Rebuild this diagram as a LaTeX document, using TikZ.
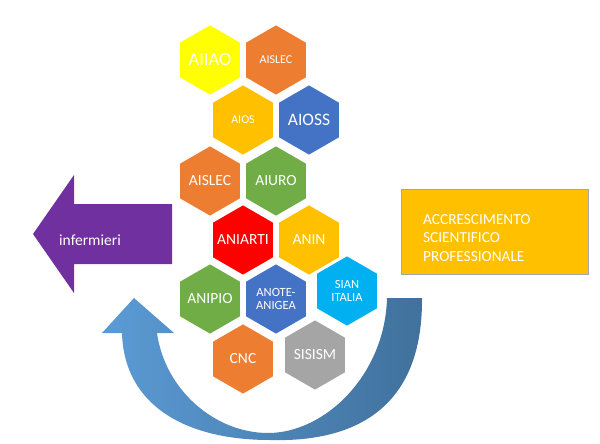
\documentclass[tikz,border=0pt]{standalone}
\usepackage{fontspec}
\setmainfont{Carlito}
\definecolor{cyel}{HTML}{FFFF00}
\definecolor{cora}{HTML}{ED7D31}
\definecolor{cgold}{HTML}{FFC000}
\definecolor{cblue}{HTML}{4472C4}
\definecolor{cgreen}{HTML}{70AD47}
\definecolor{cred}{HTML}{FF0000}
\definecolor{ccyan}{HTML}{00B0F0}
\definecolor{cgray}{HTML}{A5A5A5}
\definecolor{cpurple}{HTML}{7030A0}
\definecolor{arrL}{HTML}{5B9BD5}
\definecolor{arrR}{HTML}{41719C}
\tikzset{
  hextext/.style={text=white, align=center, inner sep=0pt},
  hexfill/.style={fill=#1, draw=none},
}
\newcommand\hexnode[6]{%
  \fill[hexfill=#4] (#2,#3) +(30:34.6) -- +(90:34.6) -- +(150:34.6) -- +(210:34.6) -- +(270:34.6) -- +(330:34.6) -- cycle;
  \node[hextext, font=\fontsize{#5}{#5}\selectfont] (#1) at (#2,#3) {#6};}
\begin{document}
\begin{tikzpicture}[x=1pt,y=-1pt]
\useasboundingbox (0,0) rectangle (600,444);
% curved arrow
\path[left color=arrL, right color=arrR]
  (422,298) .. controls (423,420) and (340,442) .. (270,440)
  .. controls (185,440) and (124,405) .. (122,333)
  -- (102,333) -- (134,298) -- (174,333) -- (157,333)
  .. controls (165,390) and (215,433) .. (268,433)
  .. controls (325,433) and (385,375) .. (387,298) -- cycle;
% purple arrow
\fill[cpurple] (172,204) -- (74,204) -- (74,175) -- (33,234) -- (74,293) -- (74,264) -- (172,264) -- cycle;
\node[text=white, font=\fontsize{15.5}{15.5}\selectfont] (inf) at (90,240) {infermieri};
% hexagons
\hexnode{h1}{210}{60}{cyel}{18.5}{AIIAO}
\hexnode{h2}{276}{60}{cora}{12}{AISLEC}
\hexnode{h3}{243}{120}{cgold}{12}{AIOS}
\hexnode{h4}{309}{120}{cblue}{17.5}{AIOSS}
\hexnode{h5}{210}{181}{cora}{15.5}{AISLEC}
\hexnode{h6}{276}{181}{cgreen}{15.5}{AIURO}
\hexnode{h7}{243}{240}{cred}{15.5}{ANIARTI}
\hexnode{h8}{309}{240}{cgold}{15.5}{ANIN}
\hexnode{h9}{210}{299}{cgreen}{15.5}{ANIPIO}
\hexnode{h10}{276}{299}{cblue}{12.5}{\fontsize{12.5}{14}\selectfont ANOTE-\\ANIGEA}
\hexnode{h11}{347}{291}{ccyan}{12.5}{\fontsize{12.5}{15}\selectfont SIAN\\ITALIA}
\hexnode{h12}{243}{359}{cora}{15.5}{CNC}
\hexnode{h13}{315}{355}{cgray}{15.5}{SISISM}
% box
\node[fill=cgold, draw=black!35, line width=0.6pt, minimum width=187pt, minimum height=85pt, inner sep=0pt] (box) at (494.5,231.5) {};
\node[text=white, anchor=west, align=left, inner sep=0pt, font=\fontsize{15.3}{18.3}\selectfont] (acc) at (423,238) {ACCRESCIMENTO\\SCIENTIFICO\\PROFESSIONALE};
\end{tikzpicture}
\end{document}
